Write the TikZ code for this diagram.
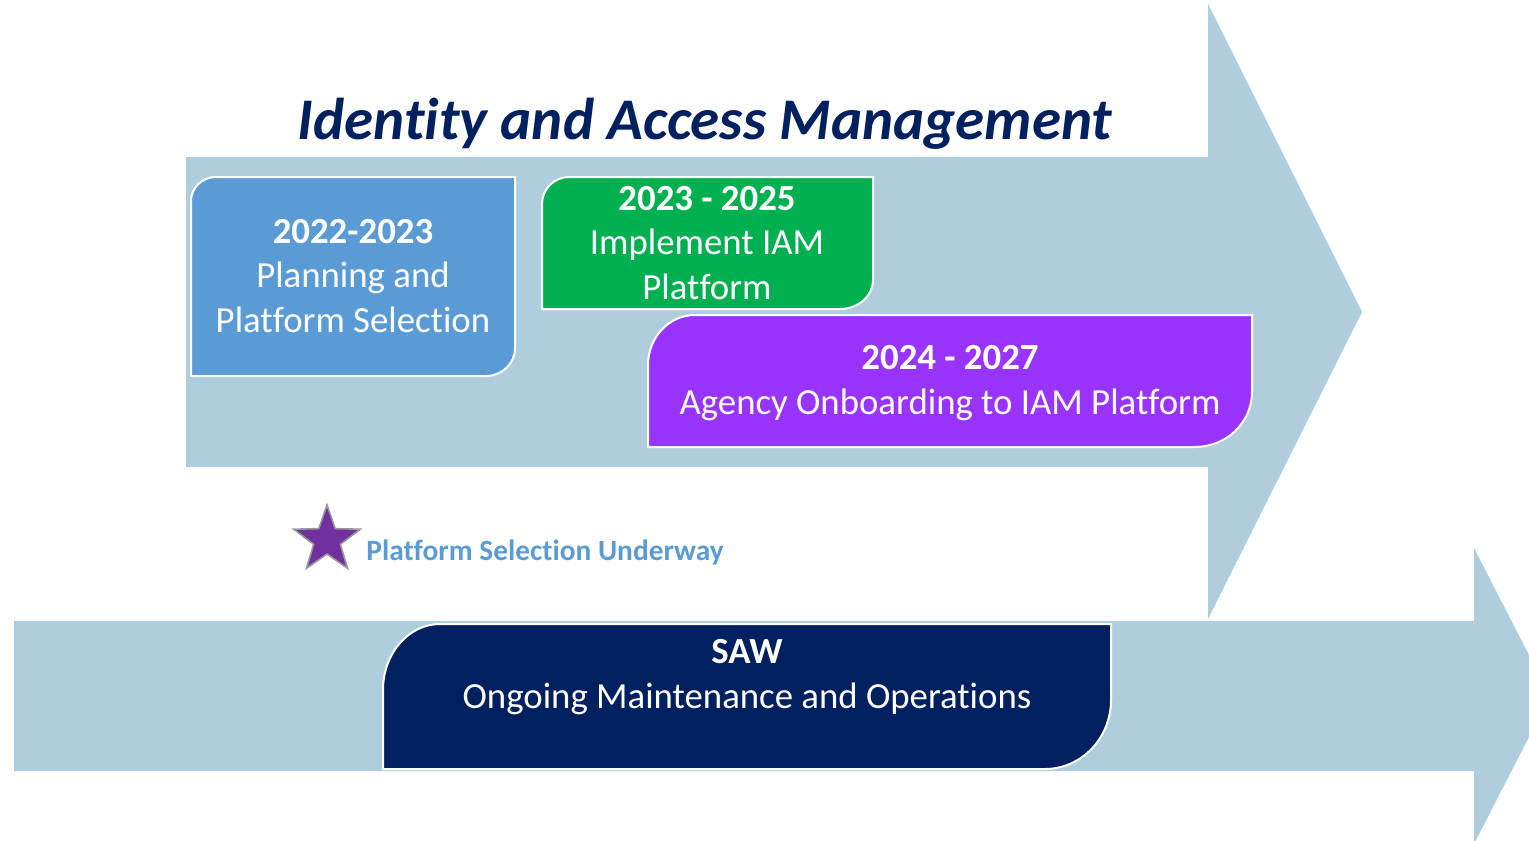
\documentclass[tikz,border=0pt]{standalone}
\usepackage{fontspec}
\setmainfont{Carlito}[Ligatures=NoCommon]
\usetikzlibrary{shapes.geometric}
\definecolor{arrowblue}{RGB}{175,206,221}
\definecolor{planblue}{RGB}{91,155,213}
\definecolor{implgreen}{RGB}{0,176,80}
\definecolor{onbpurple}{RGB}{153,51,255}
\definecolor{sawnavy}{RGB}{0,32,96}
\definecolor{titlenavy}{RGB}{0,32,96}
\definecolor{starpurple}{RGB}{112,48,160}
\newcommand\tabshape[9]{\path[#1] (#2,#5) -- (#2,{#3+#7}) .. controls (#2,{#3+0.448*#7}) and ({#2+0.448*#6},#3) .. ({#2+#6},#3) -- (#4,#3) -- (#4,{#5-#9}) .. controls (#4,{#5-0.448*#9}) and ({#4-0.448*#8},#5) .. ({#4-#8},#5) -- cycle;}
\begin{document}
\begin{tikzpicture}[x=0.5pt,y=-0.5pt,
  bigarrow/.style={fill=arrowblue},
  tabbox/.style={draw=white, line width=1pt},
  boxtext/.style={text=white, align=center, inner sep=0pt, font=\fontsize{18.4pt}{22.25pt}\selectfont},
  titletext/.style={text=titlenavy, inner sep=0pt, font=\fontsize{29.5pt}{36pt}\selectfont\bfseries\itshape},
  notetext/.style={text=planblue, inner sep=0pt, font=\fontsize{14.7pt}{17pt}\selectfont\bfseries},
  starmark/.style={star, star points=5, star point ratio=2.5, fill=starpurple, draw=gray!80, line width=0.8pt, minimum size=35pt, inner sep=0pt}]
\useasboundingbox (0,0) rectangle (1529,840);
\clip (0,0) rectangle (1529,840);
% big arrows
\path[bigarrow] (186,157) -- (1208,157) -- (1208,4) -- (1362,312) -- (1208,619) -- (1208,467) -- (186,467) -- cycle;
\path[bigarrow] (14,621) -- (1474,621) -- (1474,548) -- (1550,696) -- (1474,844) -- (1474,771) -- (14,771) -- cycle;
% title
\node[titletext, anchor=base] (title) at (705,140) {Identity and Access Management};
% boxes
\tabshape{tabbox, fill=planblue}{191}{177}{515}{376}{25}{24}{29}{28}
\tabshape{tabbox, fill=implgreen}{542}{177}{873}{309}{27}{27}{33}{29}
\tabshape{tabbox, fill=onbpurple}{648}{315}{1252}{447}{47}{50}{57}{55}
\tabshape{tabbox, fill=sawnavy}{383}{624}{1111}{769}{57}{66}{66}{69}
\node[boxtext] (plan) at (353,276) {\textbf{2022-2023}\\Planning and\\Platform Selection};
\node[boxtext] (impl) at (707,243) {\textbf{2023 - 2025}\\Implement IAM\\Platform};
\node[boxtext] (onb) at (950,383) {\textbf{2024 - 2027}\\Agency Onboarding to IAM Platform};
\node[boxtext] (saw) at (747,677) {\textbf{SAW}\\Ongoing Maintenance and Operations};
% note
\node[starmark] (star) at (327,540) {};
\node[notetext, anchor=west] (note) at (366,552) {Platform Selection Underway};
\end{tikzpicture}
\end{document}
